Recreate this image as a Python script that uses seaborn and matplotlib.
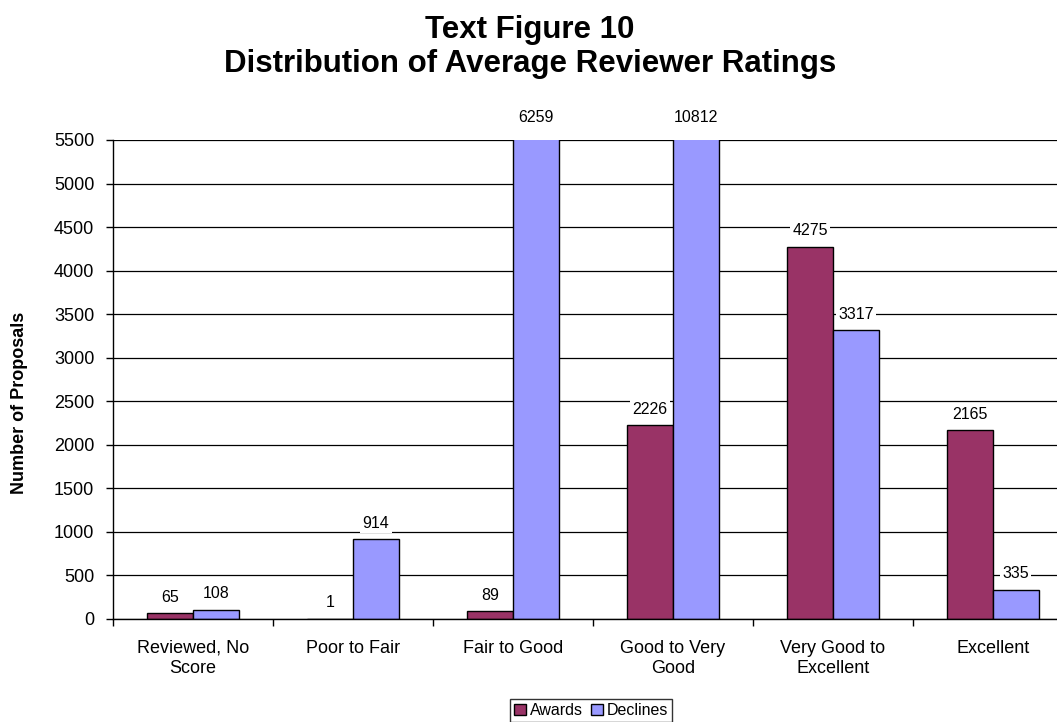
import numpy as np
import pandas as pd
import matplotlib
matplotlib.use("Agg")
import matplotlib.pyplot as plt
from matplotlib.patches import Patch
import seaborn as sns

# Chart data
categories = ["Reviewed, No\nScore", "Poor to Fair", "Fair to Good",
              "Good to Very\nGood", "Very Good to\nExcellent", "Excellent"]
awards = [65, 1, 89, 2226, 4275, 2165]
declines = [108, 914, 6259, 10812, 3317, 335]
series_names = ["Awards", "Declines"]
colors = ["#993366", "#9999FF"]
y_max = 5500

df = pd.DataFrame({"Rating": categories, "Awards": awards, "Declines": declines})
long_df = df.melt(id_vars="Rating", var_name="Series", value_name="Proposals")

sns.set_theme(style="white")
plt.rcParams["font.family"] = ["Liberation Sans", "DejaVu Sans"]
plt.rcParams["text.color"] = "black"
plt.rcParams["axes.labelcolor"] = "black"

fig = plt.figure(figsize=(10.57, 7.22), dpi=100)
ax = fig.add_axes([0.1069, 0.1427, 0.9082, 0.6634])

sns.barplot(data=long_df, x="Rating", y="Proposals", hue="Series",
            palette=colors, width=0.57, saturation=1, edgecolor="black",
            linewidth=1.0, ax=ax, legend=False, errorbar=None)

ax.set_ylim(0, y_max)
ax.set_xlim(-0.5, len(categories) - 0.5)
ax.set_yticks(np.arange(0, y_max + 1, 500))
ax.yaxis.grid(True, color="black", linewidth=0.9)
ax.set_axisbelow(True)
for side in ["top", "right"]:
    ax.spines[side].set_visible(False)
for side in ["left", "bottom"]:
    ax.spines[side].set_color("black")
    ax.spines[side].set_linewidth(1.0)

# ticks between categories, labels centred
ax.set_xticks(np.arange(len(categories)))
ax.set_xticklabels(categories, fontsize=13, linespacing=1.25)
ax.set_xticks(np.arange(-0.5, len(categories) + 0.5, 1), minor=True)
ax.tick_params(axis="x", which="major", length=0, pad=15, colors="black")
ax.tick_params(axis="x", which="minor", length=5, width=1, color="black", bottom=True)
ax.tick_params(axis="y", length=5, width=1, color="black", pad=8.5, labelsize=13,
               left=True, labelcolor="black")
ax.set_xlabel("")
ax.set_ylabel("")

# value labels above bars (clipped bars get labels above the top)
for container, values in zip(ax.containers, [awards, declines]):
    for bar, v in zip(container, values):
        x = bar.get_x() + bar.get_width() / 2
        top = min(v, y_max)
        off = 22 if v > y_max else 16
        ax.annotate(str(v), (x, top), xytext=(0, off), textcoords="offset pixels",
                    ha="center", va="center", fontsize=11.5, color="black",
                    annotation_clip=False,
                    bbox=dict(boxstyle="square,pad=0.15", fc="white", ec="none"))

fig.text(0.5014, 0.935, "Text Figure 10\nDistribution of Average Reviewer Ratings",
         ha="center", va="center", fontsize=22.5, fontweight="bold", linespacing=1.15,
         color="black")
fig.text(20 / 1057, 1 - 403 / 722, "Number of Proposals", rotation=90,
         ha="center", va="center", fontsize=13, fontweight="bold", color="black")

handles = [Patch(facecolor=c, edgecolor="black", linewidth=1) for c in colors]
fig.legend(handles, series_names, loc="center", bbox_to_anchor=(0.559, 0.016),
           ncol=2, frameon=True, fancybox=False, edgecolor="black", fontsize=11.5,
           handlelength=0.75, handleheight=0.75, handletextpad=0.25,
           columnspacing=0.5, borderpad=0.25, borderaxespad=0)

fig.savefig("out.png", dpi=100)
